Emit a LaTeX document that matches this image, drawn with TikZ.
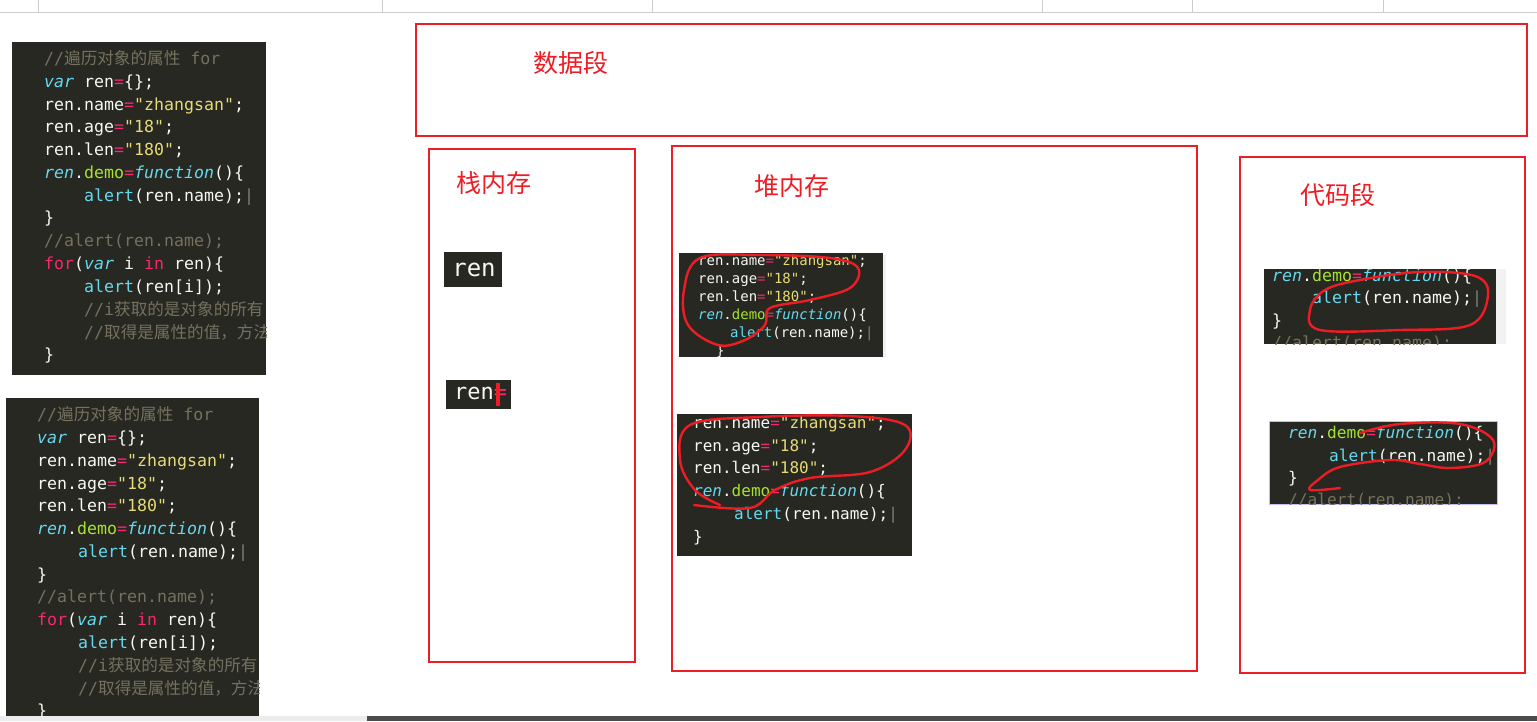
\documentclass[tikz,border=0pt]{standalone}
\usepackage{fontspec}
\setmonofont{DejaVu Sans Mono}
\newfontfamily\cjk{Noto Sans CJK SC}
\definecolor{mbg}{HTML}{272822}
\definecolor{mcm}{HTML}{75715E}
\definecolor{mkw}{HTML}{66D9EF}
\definecolor{mpk}{HTML}{F92672}
\definecolor{mst}{HTML}{E6DB74}
\definecolor{mgn}{HTML}{A6E22E}
\definecolor{mwt}{HTML}{F8F8F2}
\definecolor{redl}{HTML}{EE1C25}
\newcommand\cKw[1]{\textcolor{mkw}{\itshape #1}}
\newcommand\cFn[1]{\textcolor{mkw}{#1}}
\newcommand\cPk[1]{\textcolor{mpk}{#1}}
\newcommand\cSt[1]{\textcolor{mst}{#1}}
\newcommand\cGn[1]{\textcolor{mgn}{#1}}
\newcommand\cCm[1]{\textcolor{mcm}{#1}}
\newcommand\cln[3]{\node[anchor=mid west,inner sep=0,text=mwt] at (#1,#2) {#3};}
\tikzset{redbox/.style={draw=redl,line width=2.6pt},
 lbl/.style={text=redl,font=\cjk\fontsize{25}{25}\selectfont,inner sep=0},
 loop/.style={draw=redl,line width=2.4pt,line cap=round,line join=round},
 panel/.style={fill=mbg,draw=none}}
\begin{document}
\begin{tikzpicture}[x=1pt,y=-1pt]
\useasboundingbox (0,0) rectangle (1537,721);
\fill[white] (0,0) rectangle (1537,721);
% top bar
\draw[gray!40] (0,12) -- (1537,12);
\foreach \xx in {38,382,652,1042,1192,1383} \draw[gray!40] (\xx,0) -- (\xx,12);
\fill[gray!60!black] (367,716) rectangle (1537,721);
\fill[gray!15] (0,716) rectangle (367,721);

% ---------- left panel 1
\fill[panel] (12,42) rectangle (266,375);
\begin{scope}
\clip (12,42) rectangle (266,375);
\begin{scope}[every node/.append style={font=\ttfamily\fontsize{16.6}{16.6}\selectfont}]
\cln{44}{62}{\cCm{//{\cjk 遍历对象的属性}   for}}
\cln{44}{85}{\cKw{var} ren\cPk{=}\{\};}
\cln{44}{108}{ren.name\cPk{=}\cSt{"zhangsan"};}
\cln{44}{130}{ren.age\cPk{=}\cSt{"18"};}
\cln{44}{153}{ren.len\cPk{=}\cSt{"180"};}
\cln{44}{176}{\cKw{ren}.\cGn{demo}\cPk{=}\cKw{function}()\{}
\cln{84}{199}{\cFn{alert}(ren.name);\textcolor{gray}{|}}
\cln{44}{221}{\}}
\cln{44}{244}{\cCm{//alert(ren.name);}}
\cln{44}{267}{\cPk{for}(\cKw{var} i \cPk{in} ren)\{}
\cln{84}{290}{\cFn{alert}(ren[i]);}
\cln{84}{313}{\cCm{//i{\cjk 获取的是对象的所有}}}
\cln{84}{336}{\cCm{//{\cjk 取得是属性的值，方法}}}
\cln{44}{358}{\}}
\end{scope}
\end{scope}

% ---------- left panel 2
\fill[panel] (6,398) rectangle (259,716);
\begin{scope}
\clip (6,398) rectangle (259,716);
\begin{scope}[every node/.append style={font=\ttfamily\fontsize{16.6}{16.6}\selectfont}]
\cln{37}{418}{\cCm{//{\cjk 遍历对象的属性}   for}}
\cln{37}{441}{\cKw{var} ren\cPk{=}\{\};}
\cln{37}{464}{ren.name\cPk{=}\cSt{"zhangsan"};}
\cln{37}{487}{ren.age\cPk{=}\cSt{"18"};}
\cln{37}{509}{ren.len\cPk{=}\cSt{"180"};}
\cln{37}{532}{\cKw{ren}.\cGn{demo}\cPk{=}\cKw{function}()\{}
\cln{78}{555}{\cFn{alert}(ren.name);\textcolor{gray}{|}}
\cln{37}{578}{\}}
\cln{37}{600}{\cCm{//alert(ren.name);}}
\cln{37}{623}{\cPk{for}(\cKw{var} i \cPk{in} ren)\{}
\cln{78}{646}{\cFn{alert}(ren[i]);}
\cln{78}{669}{\cCm{//i{\cjk 获取的是对象的所有}}}
\cln{78}{692}{\cCm{//{\cjk 取得是属性的值，方法}}}
\cln{37}{714}{\}}
\end{scope}
\end{scope}

% ---------- red boxes
\draw[redbox] (416,24) rectangle (1527,136);
\node[lbl] (ds) at (571,63) {数据段};
\draw[redbox] (429,149) rectangle (635,662);
\node[lbl] (zn) at (494,183) {栈内存};
\draw[redbox] (672,146) rectangle (1197,671);
\node[lbl] (dn) at (792,186) {堆内存};
\draw[redbox] (1240,157) rectangle (1525,673);
\node[lbl] (dm) at (1338,195) {代码段};

% ---------- stack items
\fill[panel] (444,252) rectangle (502,287);
\node[text=mwt,font=\ttfamily\fontsize{24}{24}\selectfont,inner sep=0] (r1) at (474,270) {ren};
\fill[panel] (446,380) rectangle (511,409);
\node[text=mwt,font=\ttfamily\fontsize{22}{22}\selectfont,inner sep=0,anchor=mid west] (r2) at (454,397) {ren\cPk{=}};
\fill[redl] (496,383) rectangle (500,406);

% ---------- heap panel 1
\fill[gray!10] (883,255) rectangle (886,357);
\fill[panel] (679,253) rectangle (883,357);
\begin{scope}
\clip (679,253) rectangle (883,357);
\begin{scope}[every node/.append style={font=\ttfamily\fontsize{14}{14}\selectfont}]
\cln{698}{263}{ren.name\cPk{=}\cSt{"zhangsan"};}
\cln{698}{281}{ren.age\cPk{=}\cSt{"18"};}
\cln{698}{299}{ren.len\cPk{=}\cSt{"180"};}
\cln{698}{317}{\cKw{ren}.\cGn{demo}\cPk{=}\cKw{function}()\{}
\cln{730}{335}{\cFn{alert}(ren.name);\textcolor{gray}{|}}
\cln{716}{353}{\}}
\end{scope}
\end{scope}
\draw[loop] plot[smooth cycle,tension=0.6] coordinates {(700,258) (760,255) (830,258) (858,268) (850,288) (810,300) (770,308) (765,325) (745,340) (718,345) (688,325) (684,290)};

% ---------- heap panel 2
\fill[panel] (677,414) rectangle (912,556);
\begin{scope}
\clip (677,414) rectangle (912,556);
\begin{scope}[every node/.append style={font=\ttfamily\fontsize{16}{16}\selectfont}]
\cln{693}{426}{ren.name\cPk{=}\cSt{"zhangsan"};}
\cln{693}{449}{ren.age\cPk{=}\cSt{"18"};}
\cln{693}{471}{ren.len\cPk{=}\cSt{"180"};}
\cln{693}{494}{\cKw{ren}.\cGn{demo}\cPk{=}\cKw{function}()\{}
\cln{734}{517}{\cFn{alert}(ren.name);\textcolor{gray}{|}}
\cln{693}{540}{\}}
\end{scope}
\end{scope}
\draw[loop] plot[smooth,tension=0.6] coordinates {(694,505) (750,508) (775,490) (810,478) (870,472) (905,450) (905,425) (850,416) (760,417) (690,425) (680,460) (695,490) (720,505)};

% ---------- code panel 1
\fill[gray!10] (1496,269) rectangle (1506,344);
\fill[panel] (1264,269) rectangle (1496,344);
\begin{scope}
\clip (1264,269) rectangle (1496,344);
\begin{scope}[every node/.append style={font=\ttfamily\fontsize{16.6}{16.6}\selectfont}]
\cln{1272}{279}{\cKw{ren}.\cGn{demo}\cPk{=}\cKw{function}()\{}
\cln{1312}{301}{\cFn{alert}(ren.name);\textcolor{gray}{|}}
\cln{1272}{324}{\}}
\cln{1272}{346}{\cCm{//alert(ren.name);}}
\end{scope}
\end{scope}
\draw[loop] plot[smooth cycle,tension=0.6] coordinates {(1360,280) (1420,272) (1475,276) (1488,295) (1470,325) (1400,330) (1320,330) (1310,310) (1325,290)};

% ---------- code panel 2
\draw[blue!25,line width=2pt] (1270,422) rectangle (1497,504);
\fill[panel] (1270,422) rectangle (1497,504);
\begin{scope}
\clip (1270,422) rectangle (1497,504);
\begin{scope}[every node/.append style={font=\ttfamily\fontsize{16.2}{16.2}\selectfont}]
\cln{1288}{436}{\cKw{ren}.\cGn{demo}\cPk{=}\cKw{function}()\{}
\cln{1329}{459}{\cFn{alert}(ren.name);\textcolor{gray}{|}}
\cln{1288}{481}{\}}
\cln{1288}{503}{\cCm{//alert(ren.name);}}
\end{scope}
\end{scope}
\draw[loop] plot[smooth,tension=0.6] coordinates {(1360,433) (1400,424) (1460,424) (1493,440) (1485,462) (1450,468) (1420,464) (1390,460) (1340,467) (1318,480) (1310,490) (1340,488)};
\end{tikzpicture}
\end{document}
